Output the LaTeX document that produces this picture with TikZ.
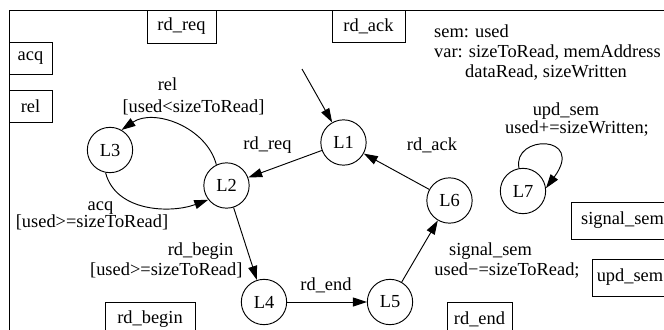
\documentclass[tikz,border=0pt]{standalone}
\usepackage{fontspec}
\setmainfont{Liberation Serif}
\usepackage{tikz}
\usetikzlibrary{arrows.meta}
\newcommand{\lblfont}{\fontsize{15.7pt}{17pt}\selectfont}
\newcommand{\declfont}{\fontsize{15.7pt}{17.1pt}\selectfont}

\begin{document}
\begin{tikzpicture}[x=0.03cm,y=-0.03cm,
  state/.style={circle,draw,line width=0.8pt,minimum size=1.36cm,inner sep=0pt,font=\lblfont},
  chan/.style={rectangle,draw,line width=0.8pt,minimum height=0.99cm,inner sep=0pt,font=\lblfont},
  lbl/.style={anchor=base,inner sep=0pt,font=\lblfont},
  trans/.style={-{Triangle[length=0.42cm,width=0.27cm]},line width=0.8pt}]
\useasboundingbox (0,0) rectangle (664,329);
\clip (0,0) rectangle (664,329);
\draw[line width=0.8pt] (9,10) rectangle (700,360);

% channels
\node[chan,minimum width=2.07cm] (req) at (181.5,26.5) {rd\_req};
\node[chan,minimum width=2.19cm,minimum height=0.96cm] (ack) at (368.5,26) {rd\_ack};
\node[chan,minimum width=1.29cm,minimum height=0.96cm] (acq) at (30.5,58) {acq};
\node[chan,minimum width=1.29cm,minimum height=0.96cm] (rel) at (30.5,106) {rel};
\node[chan,minimum width=2.7cm] (begin) at (150,319) {rd\_begin};
\node[chan,minimum width=1.95cm] (end) at (479.5,319) {rd\_end};
\node[chan,minimum width=3.09cm,minimum height=1.11cm] (sig) at (622.5,220.5) {signal\_sem};
\node[chan,minimum width=2.28cm,minimum height=1.11cm] (upd) at (630,277.5) {upd\_sem};

% declarations
\node[anchor=north west,inner sep=0pt,align=left,font=\declfont] (decl) at (434,24.5)
  {sem: used\\var: sizeToRead, memAddress\\\hspace*{0.93cm}dataRead, sizeWritten};

% locations
\coordinate (init) at (302,69);
\node[state] (L1) at (343.5,142.5) {L1};
\node[state] (L2) at (226.5,185.5) {L2};
\node[state] (L3) at (110,150) {L3};
\node[state] (L4) at (264,302) {L4};
\node[state] (L5) at (390,302) {L5};
\node[state] (L6) at (449.5,200.5) {L6};
\node[state] (L7) at (523,191) {L7};

% transitions
\draw[trans] (init) -- (L1);
\draw[trans] (L1) -- (L2);
\draw[trans] (L2.116) .. controls +(-10,-38) and +(32,-22) .. (L3.60);
\draw[trans] (L3.259) .. controls +(10,39) and +(-38,14) .. (L2.218);
\draw[trans] (L2) -- (L4);
\draw[trans] (L4) -- (L5);
\draw[trans] (L5) -- (L6);
\draw[trans] (L6) -- (L1);
\draw[trans] (L7.100) .. controls +(-7,-34) and +(40,-54) .. (L7.7);

% labels
\node[lbl] (lreq) at (267.5,149.5) {rd\_req};
\node[lbl] (lrel) at (167.5,90) {rel};
\node[lbl] (lrelg) at (193.5,112) {[used<sizeToRead]};
\node[lbl] (lacq) at (100.5,210) {acq};
\node[lbl] (lacqg) at (92,227.5) {[used>=sizeToRead]};
\node[lbl] (lbeg) at (200.5,255.5) {rd\_begin};
\node[lbl] (lbegg) at (166.3,275.5) {[used>=sizeToRead]};
\node[lbl] (lend) at (326,290.5) {rd\_end};
\node[lbl] (lsig) at (490.5,255) {signal\_sem};
\node[lbl] (lsigu) at (507,275.5) {used−=sizeToRead;};
\node[lbl] (lack) at (432,150) {rd\_ack};
\node[lbl] (lupd) at (566,115) {upd\_sem};
\node[lbl] (lupdu) at (577,133) {used+=sizeWritten;};
\end{tikzpicture}
\end{document}
